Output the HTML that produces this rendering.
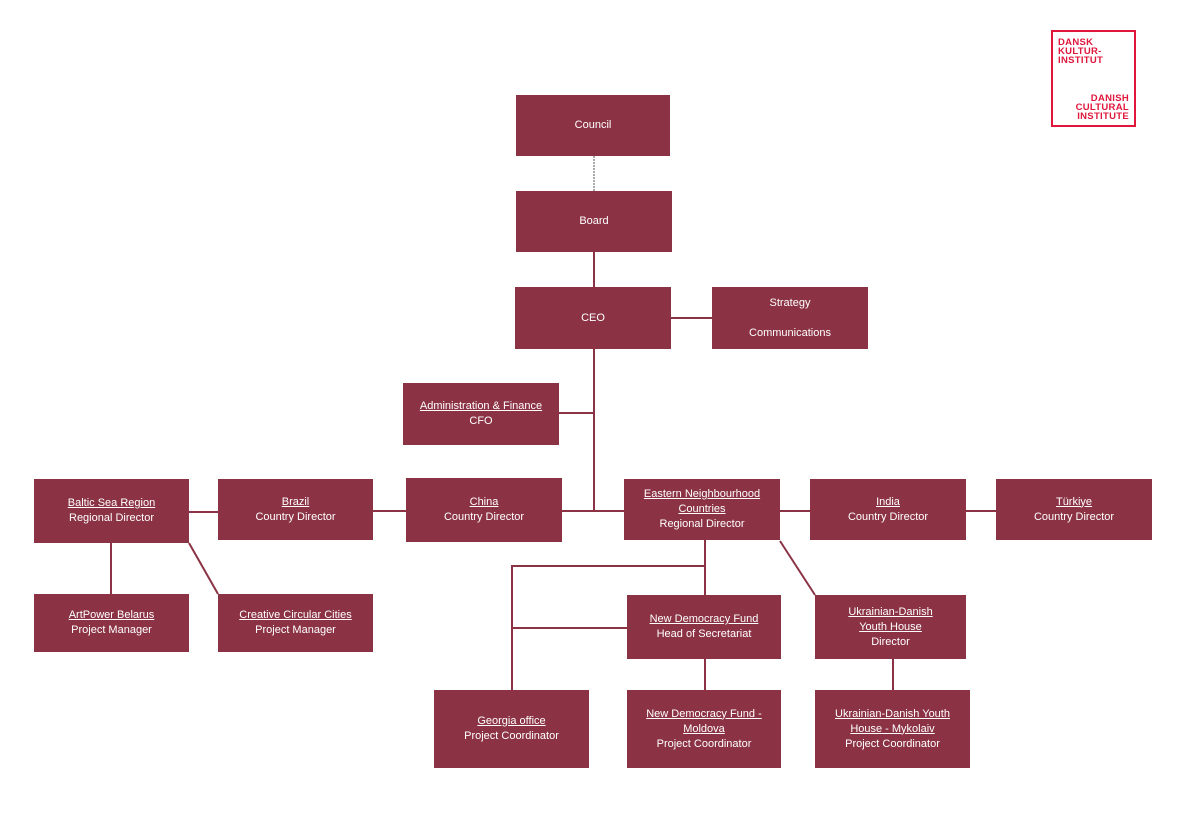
<!DOCTYPE html>
<html><head><style>
body{margin:0;width:1188px;height:820px;background:#fff;position:relative;font-family:"Liberation Sans",sans-serif;overflow:hidden}
.b{position:absolute;background:#8b3344;color:#fff;font-size:11px;line-height:15px;text-align:center;display:flex;flex-direction:column;justify-content:center;align-items:center}
.b u{text-decoration:underline}
svg{position:absolute;left:0;top:0}
.logo{position:absolute;left:1051px;top:30px;width:81px;height:93px;border:2px solid #e0163b;color:#e0163b;font-weight:bold;font-size:9.5px;line-height:9px;letter-spacing:0.3px}
</style></head><body>
<svg width="1188" height="820">
<g stroke="#8b3344" stroke-width="2" fill="none">
<line x1="594" y1="156" x2="594" y2="191" stroke="#555" stroke-width="1" stroke-dasharray="2,1"/>
<line x1="594" y1="252" x2="594" y2="287"/>
<line x1="671" y1="318" x2="712" y2="318"/>
<line x1="594" y1="349" x2="594" y2="511"/>
<line x1="559" y1="413" x2="594" y2="413"/>
<line x1="562" y1="511" x2="624" y2="511"/>
<line x1="189" y1="512" x2="218" y2="512"/>
<line x1="373" y1="511" x2="406" y2="511"/>
<line x1="780" y1="511" x2="810" y2="511"/>
<line x1="966" y1="511" x2="996" y2="511"/>
<line x1="111" y1="543" x2="111" y2="594"/>
<line x1="189" y1="543" x2="218" y2="594"/>
<line x1="705" y1="540" x2="705" y2="595"/>
<polyline points="705,566 512,566 512,690"/>
<line x1="512" y1="628" x2="627" y2="628"/>
<line x1="705" y1="659" x2="705" y2="690"/>
<line x1="780" y1="541" x2="815" y2="595"/>
<line x1="893" y1="659" x2="893" y2="690"/>
</g></svg>
<div class="b" style="left:516px;top:95px;width:154px;height:61px">Council</div>
<div class="b" style="left:516px;top:191px;width:156px;height:61px">Board</div>
<div class="b" style="left:515px;top:287px;width:156px;height:62px">CEO</div>
<div class="b" style="left:712px;top:287px;width:156px;height:62px">Strategy<br><br>Communications</div>
<div class="b" style="left:403px;top:383px;width:156px;height:62px"><u>Administration &amp; Finance </u>CFO</div>
<div class="b" style="left:34px;top:479px;width:155px;height:64px"><u>Baltic Sea Region</u>Regional Director</div>
<div class="b" style="left:218px;top:479px;width:155px;height:61px"><u>Brazil</u>Country Director</div>
<div class="b" style="left:406px;top:478px;width:156px;height:64px"><u>China</u>Country Director</div>
<div class="b" style="left:624px;top:479px;width:156px;height:61px"><u>Eastern Neighbourhood<br>Countries</u>Regional Director</div>
<div class="b" style="left:810px;top:479px;width:156px;height:61px"><u>India</u>Country Director</div>
<div class="b" style="left:996px;top:479px;width:156px;height:61px"><u>Türkiye</u>Country Director</div>
<div class="b" style="left:34px;top:594px;width:155px;height:58px"><u>ArtPower Belarus</u>Project Manager</div>
<div class="b" style="left:218px;top:594px;width:155px;height:58px"><u>Creative Circular Cities</u>Project Manager</div>
<div class="b" style="left:627px;top:595px;width:154px;height:64px"><u>New Democracy Fund</u>Head of Secretariat</div>
<div class="b" style="left:815px;top:595px;width:151px;height:64px"><u>Ukrainian-Danish <br>Youth House</u>Director</div>
<div class="b" style="left:434px;top:690px;width:155px;height:78px"><u>Georgia office</u>Project Coordinator</div>
<div class="b" style="left:627px;top:690px;width:154px;height:78px"><u>New Democracy Fund -<br>Moldova</u>Project Coordinator</div>
<div class="b" style="left:815px;top:690px;width:155px;height:78px"><u>Ukrainian-Danish Youth<br>House - Mykolaiv</u>Project Coordinator</div>
<div class="logo"><div style="position:absolute;left:5px;top:6px">DANSK<br>KULTUR-<br>INSTITUT</div><div style="position:absolute;right:5px;bottom:4px;text-align:right">DANISH<br>CULTURAL<br>INSTITUTE</div></div>
</body></html>
